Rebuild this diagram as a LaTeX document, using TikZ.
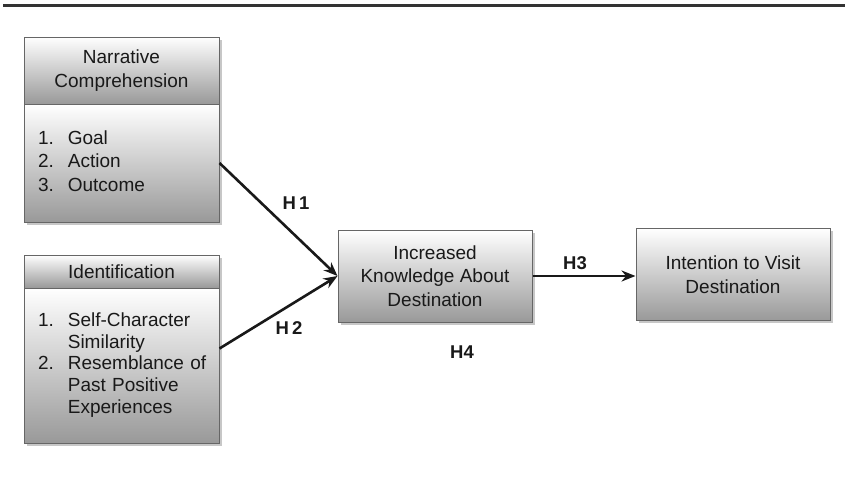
\documentclass[tikz,border=0pt]{standalone}
\usepackage{fontspec}
\setmainfont{Liberation Sans}
\usetikzlibrary{arrows.meta,shadows}

\tikzset{
  box/.style={draw=black!60, line width=1pt, top color=white, bottom color=black!40,
    drop shadow={shadow xshift=2.5pt, shadow yshift=-2.5pt, fill=black!22, opacity=1},
    minimum width=195pt, inner sep=0pt, align=center,
    font=\fontsize{19}{23.5}\selectfont, text=black!90},
  listbox/.style={box, text width=167pt, inner xsep=14pt, align=left},
  hyp/.style={font=\fontsize{18.5}{22}\selectfont\bfseries, text=black!90},
  link/.style={line width=2.6pt, black!90, -{Stealth[length=14pt,width=11pt]}}
}

\begin{document}
\begin{tikzpicture}[x=1pt, y=-1pt]
    \useasboundingbox (0,0) rectangle (845,477);
    \draw[line width=3.5pt, black!80] (3,5.5) -- (845,5.5);

    \node[box, minimum height=67pt] at (121.5,70.5) (narrhead) {Narrative\\Comprehension};
    \node[listbox, minimum height=118pt] at (121.5,163) (narrbody) {\noindent\begin{tabular}{@{}l@{\hspace{14pt}}l@{}}
        1. & Goal\\ 2. & Action\\ 3. & Outcome
      \end{tabular}};
    \node[box, minimum height=33pt] at (121.5,271.5) (identhead) {Identification};
    \node[listbox, minimum height=155pt, font=\fontsize{19}{21.8}\selectfont] at (121.5,365.5) (identbody) {\noindent\begin{tabular}{@{}l@{\hspace{14pt}}l@{}}
        1. & Self-Character\\ & Similarity\\ 2. & Resemblance of\\ & Past Positive\\ & Experiences
      \end{tabular}};
    \node[box, minimum width=194pt, minimum height=92pt] at (435,276) (knowledge) {Increased\\Knowledge About\\Destination};
    \node[box, minimum width=194pt, minimum height=92pt] at (733,274.5) (intention) {Intention to Visit\\Destination};

    \draw[link] (narrbody.east) -- (knowledge.west);
    \draw[link] ([yshift=17pt]identbody.east) -- (knowledge.west);
    \draw[link] (knowledge.east) -- (knowledge.east -| intention.west);

    \node[hyp] at (296,203) (h1) {H\,1};
    \node[hyp] at (289,328) (h2) {H\,2};
    \node[hyp] at (575,263) (h3) {H3};
    \node[hyp] at (462,352) (h4) {H4};
\end{tikzpicture}
\end{document}
